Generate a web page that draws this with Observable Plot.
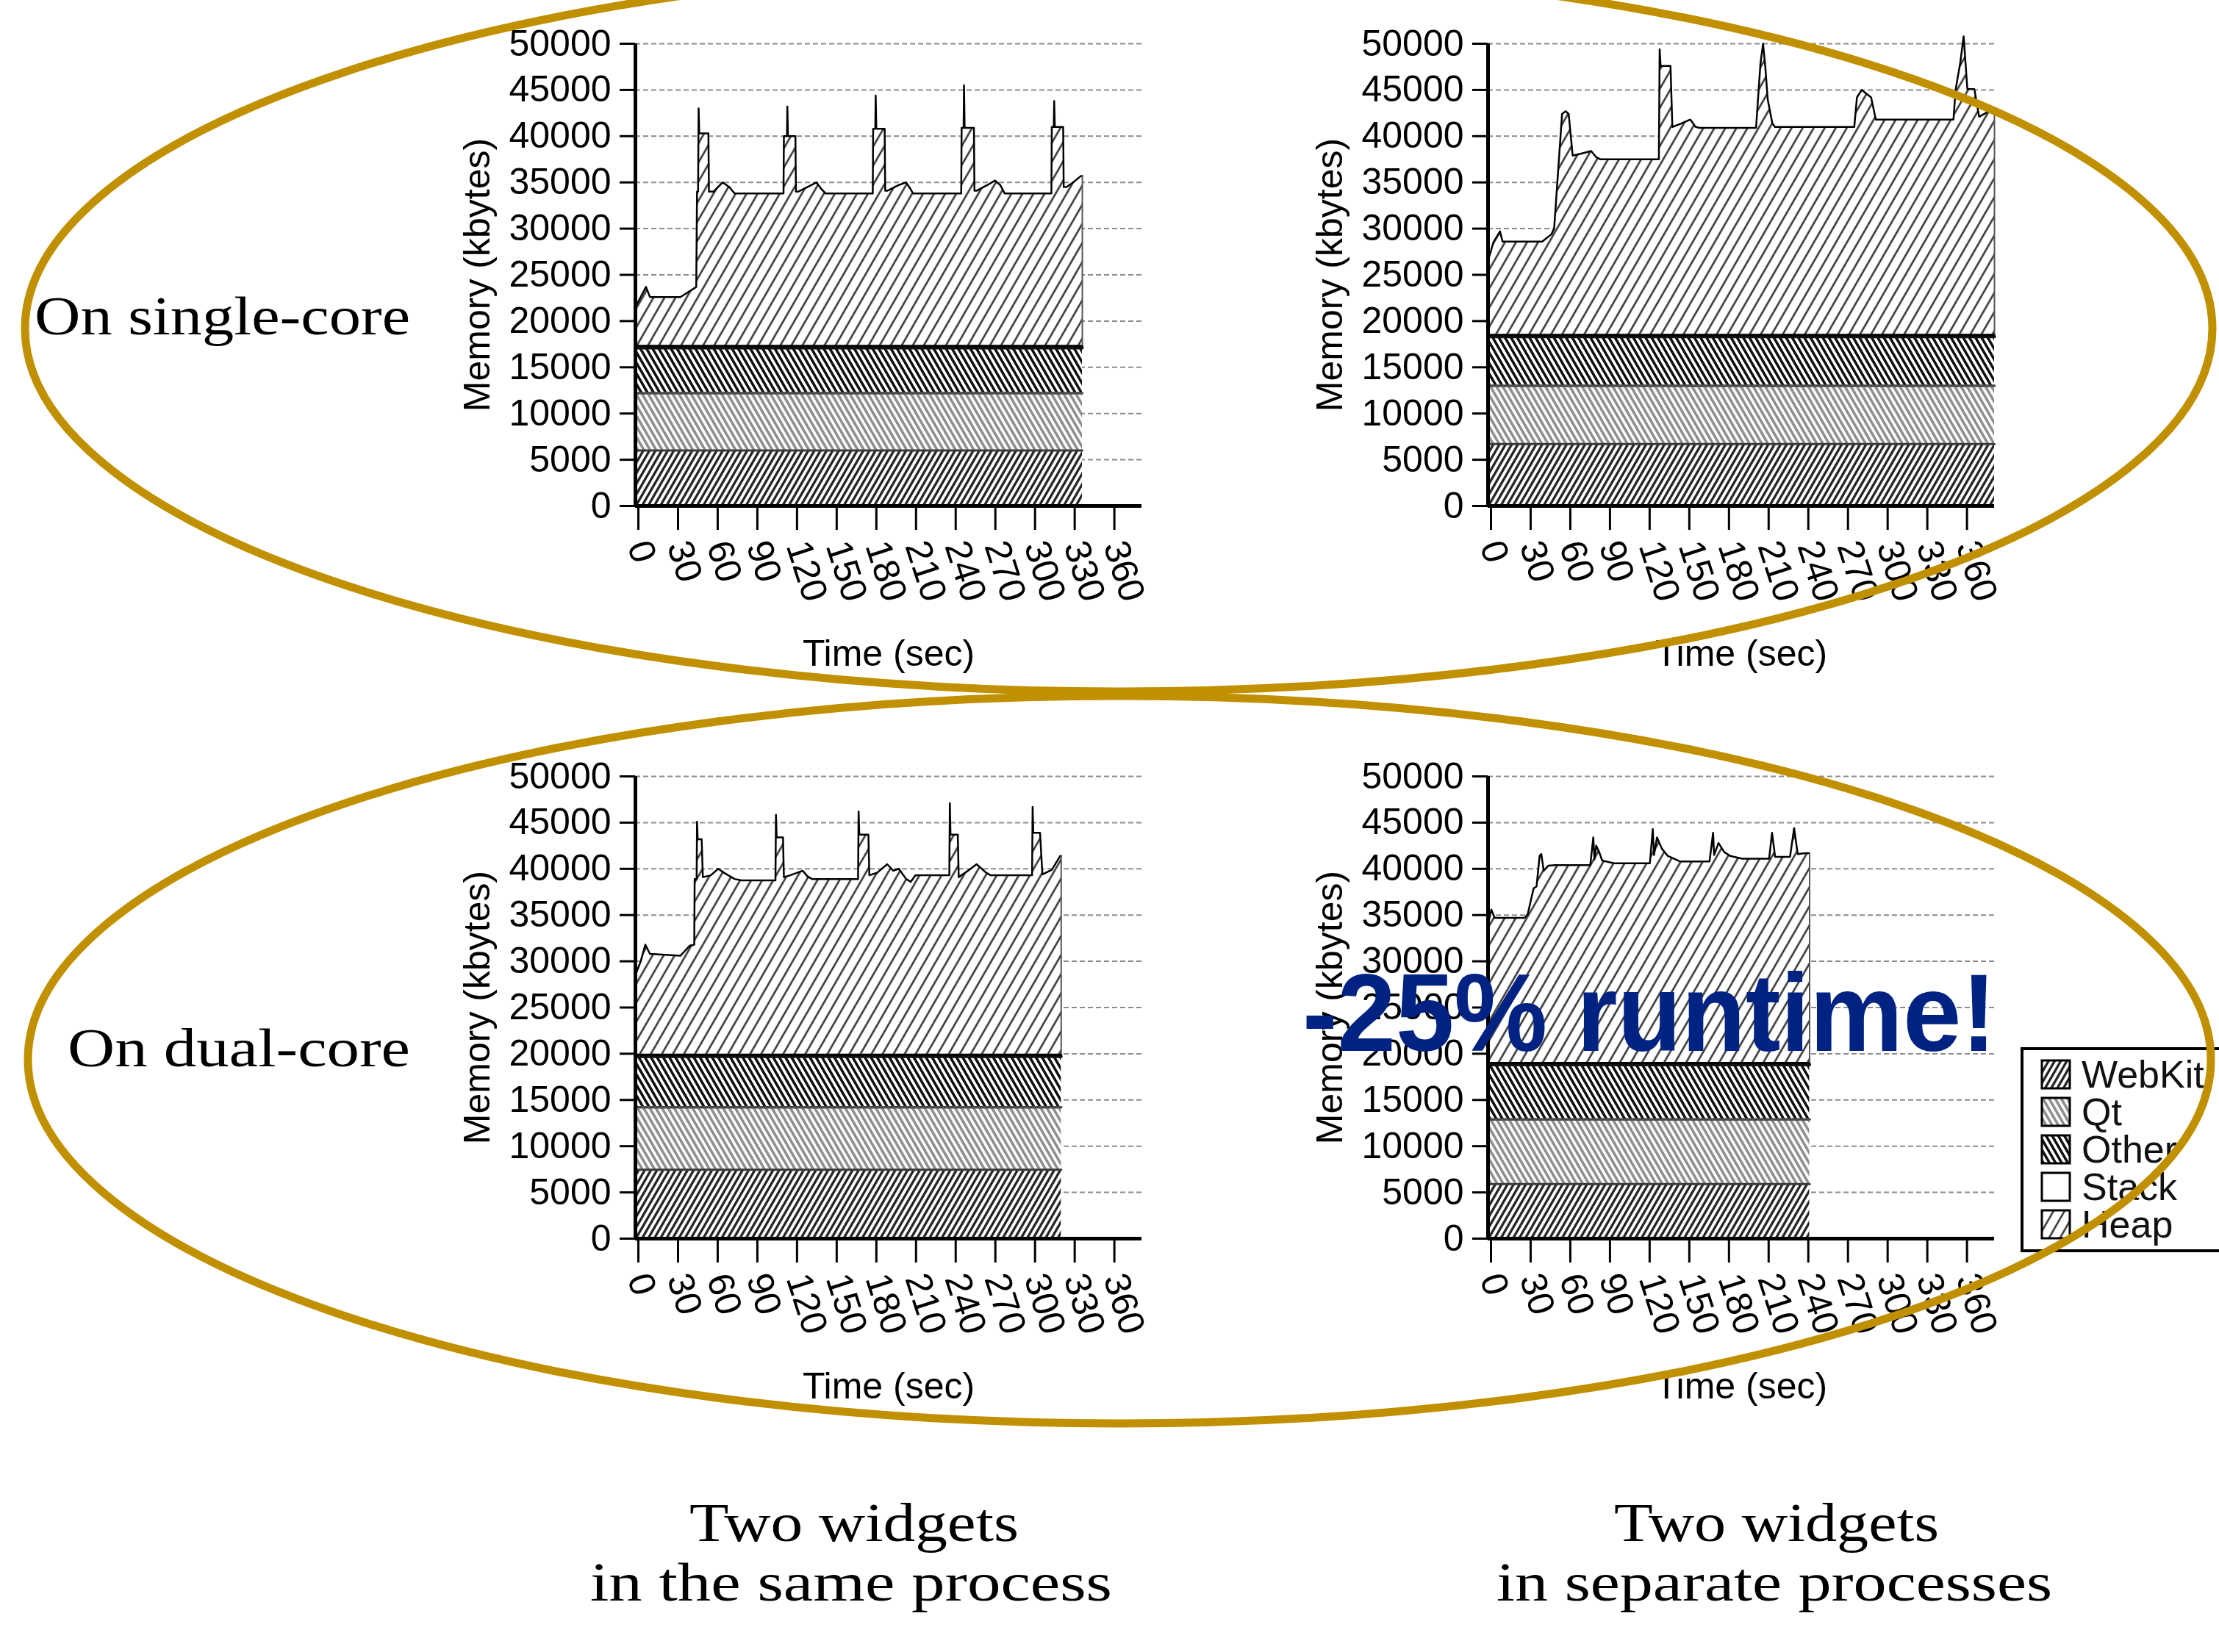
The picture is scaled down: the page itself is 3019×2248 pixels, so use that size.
<!DOCTYPE html>
<html><head><meta charset="utf-8">
<script src="https://cdn.jsdelivr.net/npm/d3@7"></script>
<script src="https://cdn.jsdelivr.net/npm/@observablehq/plot@0.6"></script>
<style>
html,body{margin:0;padding:0;background:#fff;}
#page{position:relative;width:3019px;height:2248px;overflow:hidden;background:#fff;}
.panel{position:absolute;width:1000px;height:940px;}
#overlay{position:absolute;left:0;top:0;pointer-events:none;}
</style></head><body>
<div id="page">
<svg width="0" height="0" style="position:absolute">
  <defs>
    <pattern id="pWebKit" patternUnits="userSpaceOnUse" width="7.2" height="20" patternTransform="rotate(30)">
      <rect width="7.2" height="20" fill="#fff"/>
      <line x1="3.6" y1="0" x2="3.6" y2="20" stroke="#1a1a1a" stroke-width="3.2"/>
    </pattern>
    <pattern id="pQt" patternUnits="userSpaceOnUse" width="7.2" height="20" patternTransform="rotate(-30)">
      <rect width="7.2" height="20" fill="#fafafa"/>
      <line x1="3.6" y1="0" x2="3.6" y2="20" stroke="#8a8a8a" stroke-width="3.4"/>
    </pattern>
    <pattern id="pOther" patternUnits="userSpaceOnUse" width="7.2" height="20" patternTransform="rotate(-30)">
      <rect width="7.2" height="20" fill="#fff"/>
      <line x1="3.6" y1="0" x2="3.6" y2="20" stroke="#111" stroke-width="3.6"/>
    </pattern>
    <pattern id="pHeap" patternUnits="userSpaceOnUse" width="13" height="20" patternTransform="rotate(30)">
      <rect width="13" height="20" fill="#fff"/>
      <line x1="6.5" y1="0" x2="6.5" y2="20" stroke="#2a2a2a" stroke-width="2.4"/>
    </pattern>
  </defs>
</svg>
<div id="tl" class="panel" style="left:560px;top:0px"></div>
<div id="tr" class="panel" style="left:1720px;top:0px"></div>
<div id="bl" class="panel" style="left:560px;top:997px"></div>
<div id="br" class="panel" style="left:1720px;top:997px"></div>
<svg id="overlay" width="3019" height="2248"></svg>
</div>
<script>
// ---------- data ----------
const layers = ["WebKit", "Qt", "Other", "Stack", "Heap"];
const xTicks = [0, 30, 60, 90, 120, 150, 180, 210, 240, 270, 300, 330, 360];
const yTicks = [0, 5000, 10000, 15000, 20000, 25000, 30000, 35000, 40000, 45000, 50000];

// constant layers (kbytes): WebKit, Qt, Other, Stack
const bandsSingleSame = [6000, 6200, 4900, 200];
const bandsSingleSep  = [6700, 6300, 5300, 200];
const bandsDualSame   = [7450, 6750, 5500, 200];
const bandsDualSep    = [5900, 7000, 5900, 200];

// Heap (kbytes) over time (sec)
const timeSingleSame = [0, 8, 11, 34, 44, 46, 46.6, 47.4, 47.8, 48.3, 55.2, 55.6, 59, 66, 71, 75, 112, 112.3, 114.6, 114.9, 115.4, 121, 121.4, 123, 133, 137, 140.5, 144, 179.5, 179.8, 181.4, 181.7, 182.2, 188.5, 188.9, 190.5, 199, 204.7, 208, 210, 246.4, 246.7, 248.2, 248.5, 249, 256, 256.4, 258, 266, 272, 276, 279.3, 314.6, 314.9, 316.4, 316.7, 317.2, 323.5, 323.9, 326, 331, 337, 338];
const heapSingleSame = [4200, 6400, 5300, 5300, 6200, 6400, 16700, 16700, 25700, 23000, 23000, 16700, 16700, 17700, 17200, 16500, 16500, 22700, 22700, 25900, 22700, 22700, 16700, 16700, 17400, 17700, 17000, 16500, 16500, 23500, 23500, 27100, 23500, 23500, 16800, 16800, 17400, 17700, 17000, 16500, 16500, 23600, 23600, 28200, 23600, 23600, 16800, 16800, 17400, 17900, 17400, 16500, 16500, 23700, 23700, 26500, 23700, 23700, 17200, 17200, 17700, 18400, 18400];

const timeSingleSep = [0, 4, 9, 11, 41, 48, 50, 56, 58.8, 61, 64, 70, 78, 82, 85, 129.2, 129.8, 130.5, 138, 139.4, 145, 153, 157, 160, 202.7, 206, 208, 209.7, 211.5, 215, 217, 277, 279, 282.6, 289.7, 293.3, 295, 352, 353.6, 357.2, 359.7, 362.5, 367.8, 371.4, 380.3, 383];
const heapSingleSep = [8000, 10000, 11200, 10100, 10100, 10900, 11500, 23900, 24200, 23900, 19400, 19600, 19900, 19200, 19000, 19000, 30900, 29100, 29100, 22500, 22800, 23300, 22500, 22400, 22400, 29300, 31500, 29000, 25500, 22900, 22500, 22500, 25700, 26500, 25700, 23300, 23300, 23300, 26500, 29500, 32300, 26600, 26600, 23600, 24300, 24300];

const timeDualSame = [0, 4, 7.5, 11, 34, 41.2, 44.5, 44.8, 46.3, 46.6, 47.1, 50.1, 51, 57, 62.6, 67.9, 75, 80.3, 105.9, 106.3, 106.8, 111.6, 112.3, 117, 126.5, 130, 133.6, 168.4, 168.8, 169.3, 176.2, 176.9, 183, 190.4, 195, 199.3, 204.7, 208.2, 211.8, 237.4, 237.8, 238.3, 243.8, 244.5, 252.6, 258, 265.1, 268.7, 300, 300.4, 300.9, 306, 307.8, 314.9, 321.3, 322];
const heapDualSame = [8600, 10100, 11900, 10900, 10700, 11800, 11900, 19000, 19000, 25200, 23300, 23300, 19200, 19400, 20100, 19600, 19000, 18850, 18850, 25950, 23500, 23500, 19200, 19400, 19900, 19300, 19000, 19000, 26300, 23800, 23800, 19400, 19700, 20600, 19900, 20100, 19000, 18700, 19400, 19400, 27200, 23800, 23800, 19200, 20000, 20600, 19700, 19400, 19400, 26800, 24000, 24000, 19500, 20000, 21500, 21500];

const timeDualSep = [0, 2.5, 5, 27.7, 30, 34.5, 36.7, 39, 40.3, 42.1, 45.7, 50.2, 77.3, 79.6, 80.5, 81.8, 84.1, 86.3, 95.3, 122.4, 124.6, 125.5, 127.8, 131.4, 135.9, 145, 167.5, 170.2, 171, 174.3, 178.7, 183.2, 192.3, 212.6, 214.8, 217.1, 228.4, 231.5, 234.2, 239.6, 243.2];
const heapDualSep = [15000, 16600, 15700, 15700, 16100, 18900, 19100, 22400, 22600, 20800, 21350, 21400, 21400, 24400, 22000, 23500, 22800, 21900, 21600, 21600, 25300, 22500, 24400, 23200, 22400, 21800, 21800, 24900, 22500, 23800, 22800, 22400, 22100, 22100, 24900, 22300, 22300, 25400, 22600, 22700, 22700];

// ---------- styles ----------
const fills = {WebKit: "url(#pWebKit)", Qt: "url(#pQt)", Other: "url(#pOther)", Stack: "#ffffff", Heap: "url(#pHeap)"};
const edge = {WebKit: ["#3a3a3a", 3], Qt: ["#4a4a4a", 3.5], Other: ["#111", 4], Stack: ["#000", 3], Heap: ["#000", 2.5]};
const sans = "'Liberation Sans', Arial, Helvetica, sans-serif";
const serif = "'Liberation Serif', 'Times New Roman', serif";

function panel(id, times, heap, bands) {
  const rows = [];
  times.forEach((t, i) => {
    const vals = [...bands, heap[i]];
    let base = 0;
    layers.forEach((L, j) => {
      rows.push({t, layer: L, y1: base, y2: base + vals[j], fill: fills[L]});
      base += vals[j];
    });
  });
  const last = rows.filter(r => r.layer === "Heap" && r.t === times[times.length - 1]);
  const chart = Plot.plot({
    width: 1000, height: 940,
    marginLeft: 304, marginRight: 7, marginTop: 59, marginBottom: 252,
    x: {domain: [0, 383], axis: null},
    y: {domain: [0, 50000], axis: null},
    color: {type: "identity"},
    style: {fontFamily: sans, fontSize: "50px", background: "transparent", overflow: "visible", color: "#000"},
    marks: [
      Plot.ruleY(yTicks.slice(1), {x1: 0, x2: 383, stroke: "#8c8c8c", strokeWidth: 2, strokeDasharray: "7,4"}),
      Plot.areaY(rows, {x: "t", y1: "y1", y2: "y2", z: "layer", fill: "fill", curve: "linear"}),
      ...layers.map(L => Plot.lineY(rows.filter(r => r.layer === L), {x: "t", y: "y2", stroke: edge[L][0], strokeWidth: edge[L][1], curve: "linear"})),
      Plot.ruleX(last, {x: "t", y1: "y1", y2: "y2", stroke: "#555", strokeWidth: 2}),
      Plot.ruleX([0], {y1: 0, y2: 50000, stroke: "#000", strokeWidth: 5}),
      Plot.ruleY([0], {x1: 0, x2: 383, stroke: "#000", strokeWidth: 5}),
      Plot.axisY(yTicks, {tickSize: 21, tickPadding: 12, tickFormat: "d", fontSize: 50, strokeWidth: 3, label: null}),
      Plot.axisX(xTicks, {tickSize: 33, tickPadding: 16, tickRotate: 72, tickFormat: "d", fontSize: 50, strokeWidth: 3, label: null, dx: 4}),
      Plot.text(["Memory (kbytes)"], {frameAnchor: "left", textAnchor: "middle", dx: -215, rotate: -90, fontSize: 50}),
      Plot.text(["Time (sec)"], {frameAnchor: "bottom", dy: 217, fontSize: 50})
    ]
  });
  document.getElementById(id).appendChild(chart);
}

panel("tl", timeSingleSame, heapSingleSame, bandsSingleSame);
panel("tr", timeSingleSep, heapSingleSep, bandsSingleSep);
panel("bl", timeDualSame, heapDualSame, bandsDualSame);
panel("br", timeDualSep, heapDualSep, bandsDualSep);

// ---------- annotations ----------
const ov = d3.select("#overlay");
// legend
ov.append("rect").attr("x", 2751).attr("y", 1427).attr("width", 320).attr("height", 275)
  .attr("fill", "#fff").attr("stroke", "#000").attr("stroke-width", 4);
layers.forEach((L, i) => {
  ov.append("rect").attr("x", 2778).attr("y", 1443 + i * 51).attr("width", 38).attr("height", 38)
    .attr("fill", fills[L]).attr("stroke", "#000").attr("stroke-width", 3);
  ov.append("text").attr("x", 2832).attr("y", 1480 + i * 51).text(L)
    .attr("font-family", sans).attr("font-size", 52).attr("fill", "#111");
});
// big annotation
ov.append("text").attr("x", 1772).attr("y", 1430).text("-25% runtime!")
  .attr("font-family", sans).attr("font-weight", "bold").attr("font-size", 150)
  .attr("textLength", 944).attr("lengthAdjust", "spacingAndGlyphs").attr("fill", "#002383");
// row labels
ov.append("text").attr("x", 558).attr("y", 455).attr("text-anchor", "end").text("On single-core")
  .attr("font-family", serif).attr("font-size", 74).attr("textLength", 511).attr("lengthAdjust", "spacingAndGlyphs");
ov.append("text").attr("x", 558).attr("y", 1451).attr("text-anchor", "end").text("On dual-core")
  .attr("font-family", serif).attr("font-size", 74).attr("textLength", 466).attr("lengthAdjust", "spacingAndGlyphs");
// captions
[[1162, 2097, "Two widgets", 448], [1158, 2178, "in the same process", 710],
 [2417, 2097, "Two widgets", 442], [2414, 2178, "in separate processes", 756]].forEach(([x, y, s, w]) => {
  ov.append("text").attr("x", x).attr("y", y).attr("text-anchor", "middle").text(s)
    .attr("font-family", serif).attr("font-size", 74).attr("textLength", w).attr("lengthAdjust", "spacingAndGlyphs");
});
// gold ellipses
ov.append("ellipse").attr("cx", 1522).attr("cy", 447).attr("rx", 1488).attr("ry", 494)
  .attr("fill", "none").attr("stroke", "#C09000").attr("stroke-width", 11);
ov.append("ellipse").attr("cx", 1523).attr("cy", 1442).attr("rx", 1485).attr("ry", 495)
  .attr("fill", "none").attr("stroke", "#C09000").attr("stroke-width", 11);
</script>
</body></html>
